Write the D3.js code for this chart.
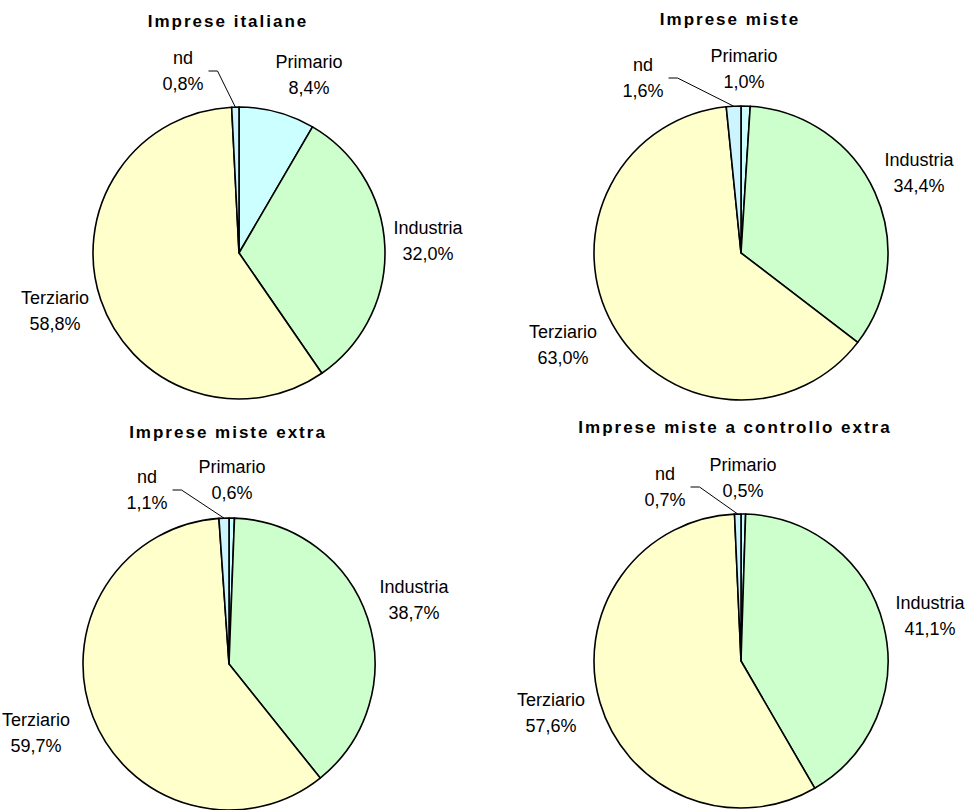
<!DOCTYPE html>
<html>
<head>
<meta charset="utf-8">
<script src="https://cdn.jsdelivr.net/npm/d3@7"></script>
<style>
  html, body { margin: 0; padding: 0; background: #ffffff; }
  svg { display: block; }
  .title { font-family: "Liberation Sans", Arial, sans-serif; font-weight: bold; font-size: 17px; letter-spacing: 2px; fill: #000; }
  .lbl { font-family: "Liberation Sans", Arial, sans-serif; font-size: 18px; fill: #000; }
</style>
</head>
<body>
<svg id="chart" width="968" height="810"></svg>
<script>
// Sector shares (%) for each group of firms
const categories = ["Primario", "Industria", "Terziario", "nd"];
const chartTitles = ["Imprese italiane", "Imprese miste", "Imprese miste extra", "Imprese miste a controllo extra"];
const impreseItaliane = [8.4, 32.0, 58.8, 0.8];
const impreseMiste = [1.0, 34.4, 63.0, 1.6];
const impreseMisteExtra = [0.6, 38.7, 59.7, 1.1];
const impreseControlloExtra = [0.5, 41.1, 57.6, 0.7];
const seriesList = [impreseItaliane, impreseMiste, impreseMisteExtra, impreseControlloExtra];

// Slice fills per category
const colors = d3.scaleOrdinal()
  .domain(categories)
  .range(["#CCFFFF", "#CCFFCC", "#FFFFCC", "#CCF5FF"]);

// Panel layout: pie centre, radius, title position, label offsets from centre
const panels = [
  { cx: 239, cy: 253, r: 146, tx: 228, ty: 27,
    labels: [[70, -178], [189, -12], [-184, 58], [-56, -182]] },
  { cx: 741, cy: 253, r: 147, tx: 730, ty: 25,
    labels: [[3, -184], [178, -80], [-178, 92], [-98, -175]] },
  { cx: 229, cy: 664, r: 146, tx: 228, ty: 438,
    labels: [[3, -184], [185, -64], [-193, 69], [-82, -174]] },
  { cx: 741, cy: 661, r: 147, tx: 735, ty: 433,
    labels: [[2, -183], [189, -45], [-190, 52], [-76, -174]] }
];

const fmt = v => d3.format(".1f")(v).replace(".", ",") + "%";

const svg = d3.select("#chart");

const pie = d3.pie().sort(null).value(d => d.value);

seriesList.forEach((values, i) => {
  const p = panels[i];
  const data = categories.map((c, k) => ({ cat: c, value: values[k] }));
  const arcs = pie(data);
  const arc = d3.arc().innerRadius(0).outerRadius(p.r);

  svg.append("text")
    .attr("class", "title")
    .attr("x", p.tx)
    .attr("y", p.ty)
    .attr("text-anchor", "middle")
    .text(chartTitles[i]);

  const g = svg.append("g").attr("transform", `translate(${p.cx},${p.cy})`);

  g.selectAll("path.slice")
    .data(arcs)
    .join("path")
    .attr("class", "slice")
    .attr("d", arc)
    .attr("fill", d => colors(d.data.cat))
    .attr("stroke", "#000")
    .attr("stroke-width", 1.6)
    .attr("stroke-linejoin", "round");

  // Category / percentage labels
  const lab = g.selectAll("text.lbl")
    .data(arcs)
    .join("text")
    .attr("class", "lbl")
    .attr("text-anchor", "middle")
    .attr("transform", (d, k) => `translate(${p.labels[k][0]},${p.labels[k][1]})`);
  lab.append("tspan").attr("x", 0).attr("y", -7).text(d => d.data.cat);
  lab.append("tspan").attr("x", 0).attr("y", 19).text(d => fmt(d.data.value));

  // Leader line for the "nd" slice
  const ndIdx = categories.indexOf("nd");
  const nd = arcs[ndIdx];
  const mid = (nd.startAngle + nd.endAngle) / 2;
  const end = [Math.sin(mid) * p.r, -Math.cos(mid) * p.r];
  const node = lab.nodes()[ndIdx];
  const w = node.getBBox().width;
  const sx = p.labels[ndIdx][0] + w / 2 + 5;
  const sy = p.labels[ndIdx][1];
  g.append("path")
    .attr("d", d3.line()([[sx, sy], [sx + 9, sy], end]))
    .attr("fill", "none")
    .attr("stroke", "#000")
    .attr("stroke-width", 1);
});
</script>
</body>
</html>
